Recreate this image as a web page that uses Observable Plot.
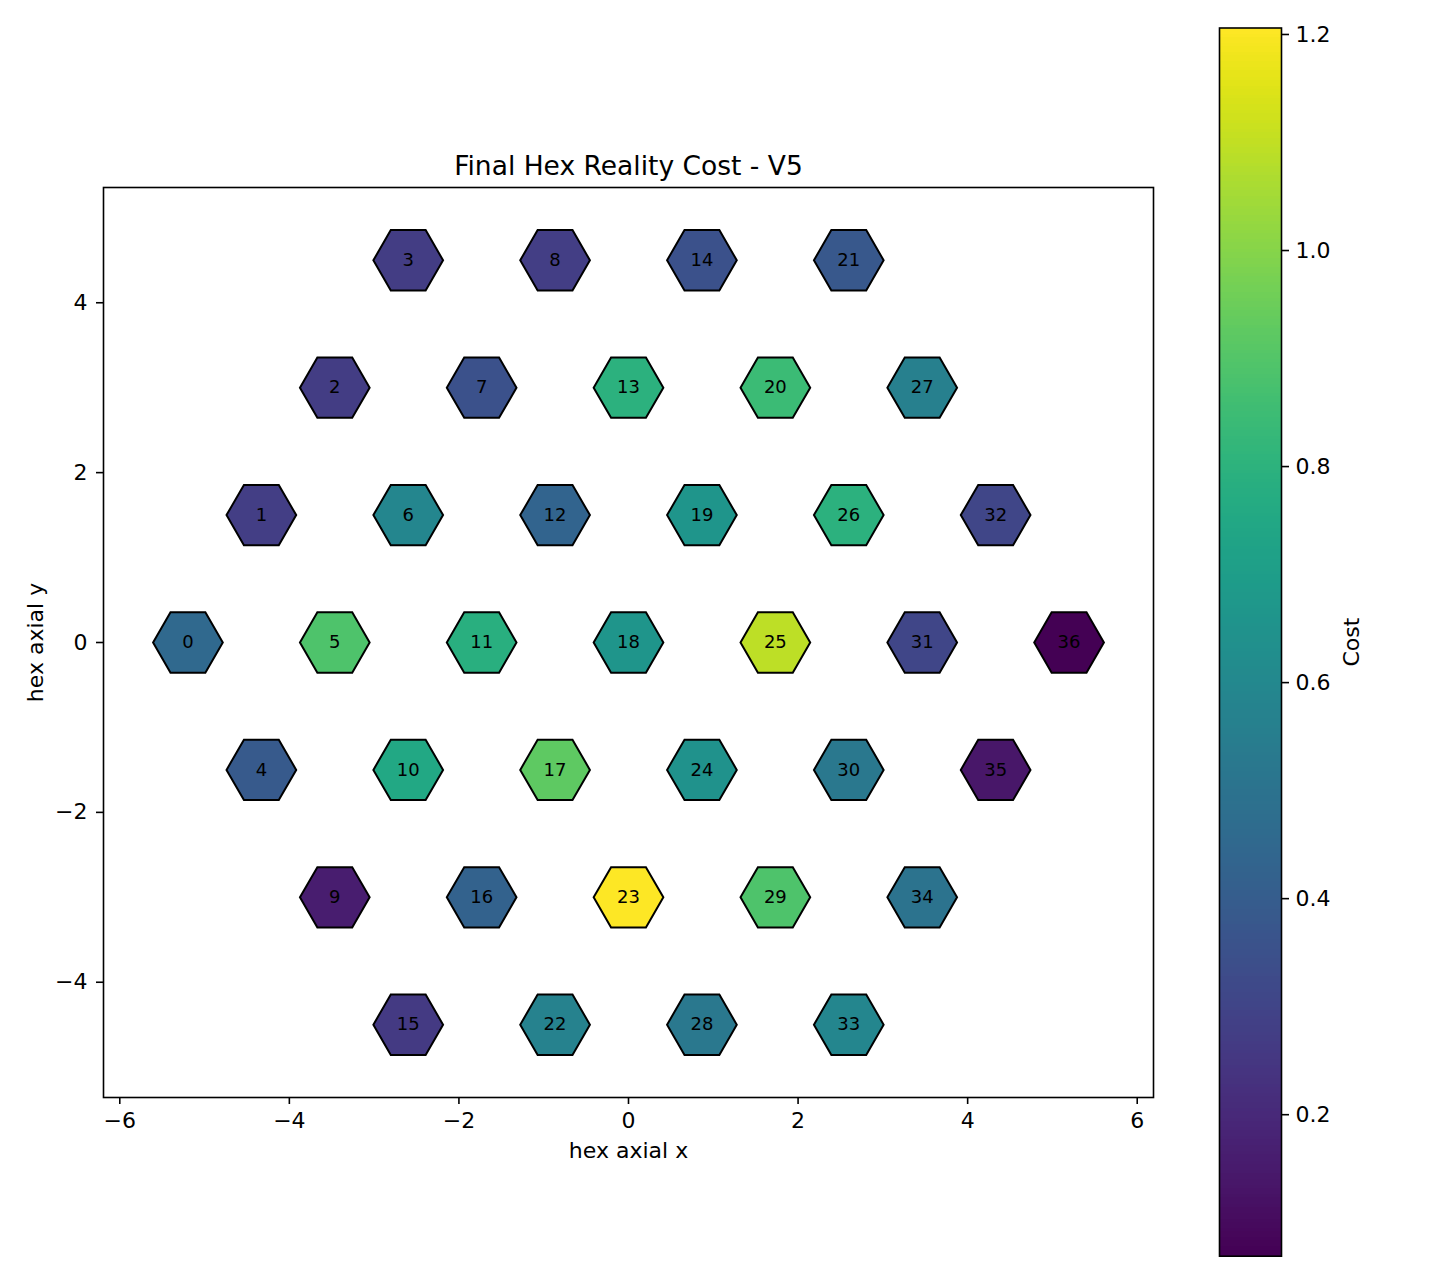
<!DOCTYPE html>
<html>
<head>
<meta charset="utf-8">
<script src="https://cdn.jsdelivr.net/npm/d3@7"></script>
<script src="https://cdn.jsdelivr.net/npm/@observablehq/plot@0.6"></script>
<style>
  html, body { margin: 0; padding: 0; background: white; overflow: hidden; }
  #wrap { position: relative; width: 1440px; height: 1280px; }
  #wrap svg { position: absolute; left: 0; top: 0; }
  #wrap svg, #wrap svg text, #wrap svg g { font-family: "DejaVu Sans" !important; }
</style>
</head>
<body>
<div id="wrap"></div>
<script>
// ---- data ----
const hexQ = [-3,-3,-3,-3, -2,-2,-2,-2,-2, -1,-1,-1,-1,-1,-1, 0,0,0,0,0,0,0, 1,1,1,1,1,1, 2,2,2,2,2, 3,3,3,3];
const hexR = [0,1,2,3, -1,0,1,2,3, -2,-1,0,1,2,3, -3,-2,-1,0,1,2,3, -3,-2,-1,0,1,2, -3,-2,-1,0,1, -3,-2,-1,0];
const hexCost = [
  0.455, 0.274, 0.270, 0.272,
  0.387, 0.887, 0.592, 0.353, 0.276,
  0.160, 0.751, 0.785, 0.433, 0.796, 0.353,
  0.262, 0.421, 0.922, 0.660, 0.660, 0.842, 0.376,
  0.569, 1.206, 0.649, 1.092, 0.796, 0.558,
  0.524, 0.887, 0.524, 0.308, 0.308,
  0.592, 0.501, 0.137, 0.069
];
const xTicks = [-6, -4, -2, 0, 2, 4, 6];
const yTicks = [-4, -2, 0, 2, 4];
const cbarTicks = [0.2, 0.4, 0.6, 0.8, 1.0, 1.2];
const titleText = "Final Hex Reality Cost - V5";
const xLabel = "hex axial x";
const yLabel = "hex axial y";
const cbarLabel = "Cost";

// ---- derived table ----
const SQ3 = Math.sqrt(3);
const hexes = hexCost.map((c, i) => ({
  id: i,
  x: SQ3 * (hexQ[i] + hexR[i] / 2),
  y: 1.5 * hexR[i],
  cost: c
}));
const colorDomain = d3.extent(hexCost);

// ---- layout ----
const W = 1440, H = 1280;
const mL = 103, mR = 287, mT = 187, mB = 183;
const xDom = [-6.192, 6.192];
const yDom = [-5.357, 5.357];
const pxPerUnit = (W - mL - mR) / (xDom[1] - xDom[0]);
const hexRadius = 0.411 * pxPerUnit;
const font = "'DejaVu Sans', sans-serif";

const flatHex = {
  draw(ctx, size) {
    const R = Math.sqrt(size / Math.PI);
    for (let i = 0; i < 6; i++) {
      const a = i * Math.PI / 3;
      const px = R * Math.cos(a), py = R * Math.sin(a);
      if (i === 0) ctx.moveTo(px, py); else ctx.lineTo(px, py);
    }
    ctx.closePath();
  }
};

const main = Plot.plot({
  width: W, height: H,
  marginLeft: mL, marginRight: mR, marginTop: mT, marginBottom: mB,
  style: { fontFamily: font, background: "white", color: "black" },
  x: { domain: xDom, label: null },
  y: { domain: yDom, label: null },
  color: { type: "linear", domain: colorDomain, scheme: "viridis" },
  marks: [
    Plot.dot(hexes, { x: "x", y: "y", r: hexRadius, symbol: flatHex, fill: "cost", stroke: "black", strokeWidth: 2 }),
    Plot.text(hexes, { x: "x", y: "y", text: d => String(d.id), fontSize: 18, fill: "black" }),
    Plot.frame({ stroke: "black", strokeWidth: 1.6 }),
    Plot.axisX({ ticks: xTicks, tickFormat: d3.format("d"), tickSize: 7, tickPadding: 7.5, strokeWidth: 1.6, fontSize: 22, label: null }),
    Plot.axisY({ ticks: yTicks, tickFormat: d3.format("d"), tickSize: 7, tickPadding: 9, strokeWidth: 1.6, fontSize: 22, label: null }),
    Plot.text([titleText], { frameAnchor: "top", dy: -21, lineAnchor: "middle", textAnchor: "middle", fontSize: 26.5, fill: "black" }),
    Plot.text([xLabel], { frameAnchor: "bottom", dy: 53, lineAnchor: "middle", textAnchor: "middle", fontSize: 22, fill: "black" }),
    Plot.text([yLabel], { frameAnchor: "left", dx: -67.7, rotate: -90, lineAnchor: "middle", textAnchor: "middle", fontSize: 22, fill: "black" })
  ]
});

// ---- colorbar ----
const nBands = 400;
const [lo, hi] = colorDomain;
const bands = d3.range(nBands).map(i => ({
  y1: lo + (hi - lo) * i / nBands,
  y2: lo + (hi - lo) * (i + 1) / nBands,
  v: lo + (hi - lo) * (i + 0.5) / nBands
}));

const cbar = Plot.plot({
  width: W, height: H,
  marginLeft: 1219, marginRight: 159, marginTop: 27.5, marginBottom: 24.3,
  style: { fontFamily: font, background: "transparent", color: "black" },
  y: { domain: colorDomain, label: null },
  color: { type: "linear", domain: colorDomain, scheme: "viridis" },
  marks: [
    Plot.rect(bands, { y1: "y1", y2: "y2", fill: "v", shapeRendering: "crispEdges" }),
    Plot.frame({ stroke: "black", strokeWidth: 1.6 }),
    Plot.axisY({ anchor: "right", ticks: cbarTicks, tickFormat: d3.format(".1f"), tickSize: 7, tickPadding: 7, strokeWidth: 1.6, fontSize: 22, label: null }),
    Plot.text([cbarLabel], { frameAnchor: "right", dx: 70.3, rotate: -90, lineAnchor: "middle", textAnchor: "middle", fontSize: 22, fill: "black" })
  ]
});

const wrap = document.getElementById("wrap");
wrap.appendChild(main);
wrap.appendChild(cbar);
</script>
</body>
</html>
